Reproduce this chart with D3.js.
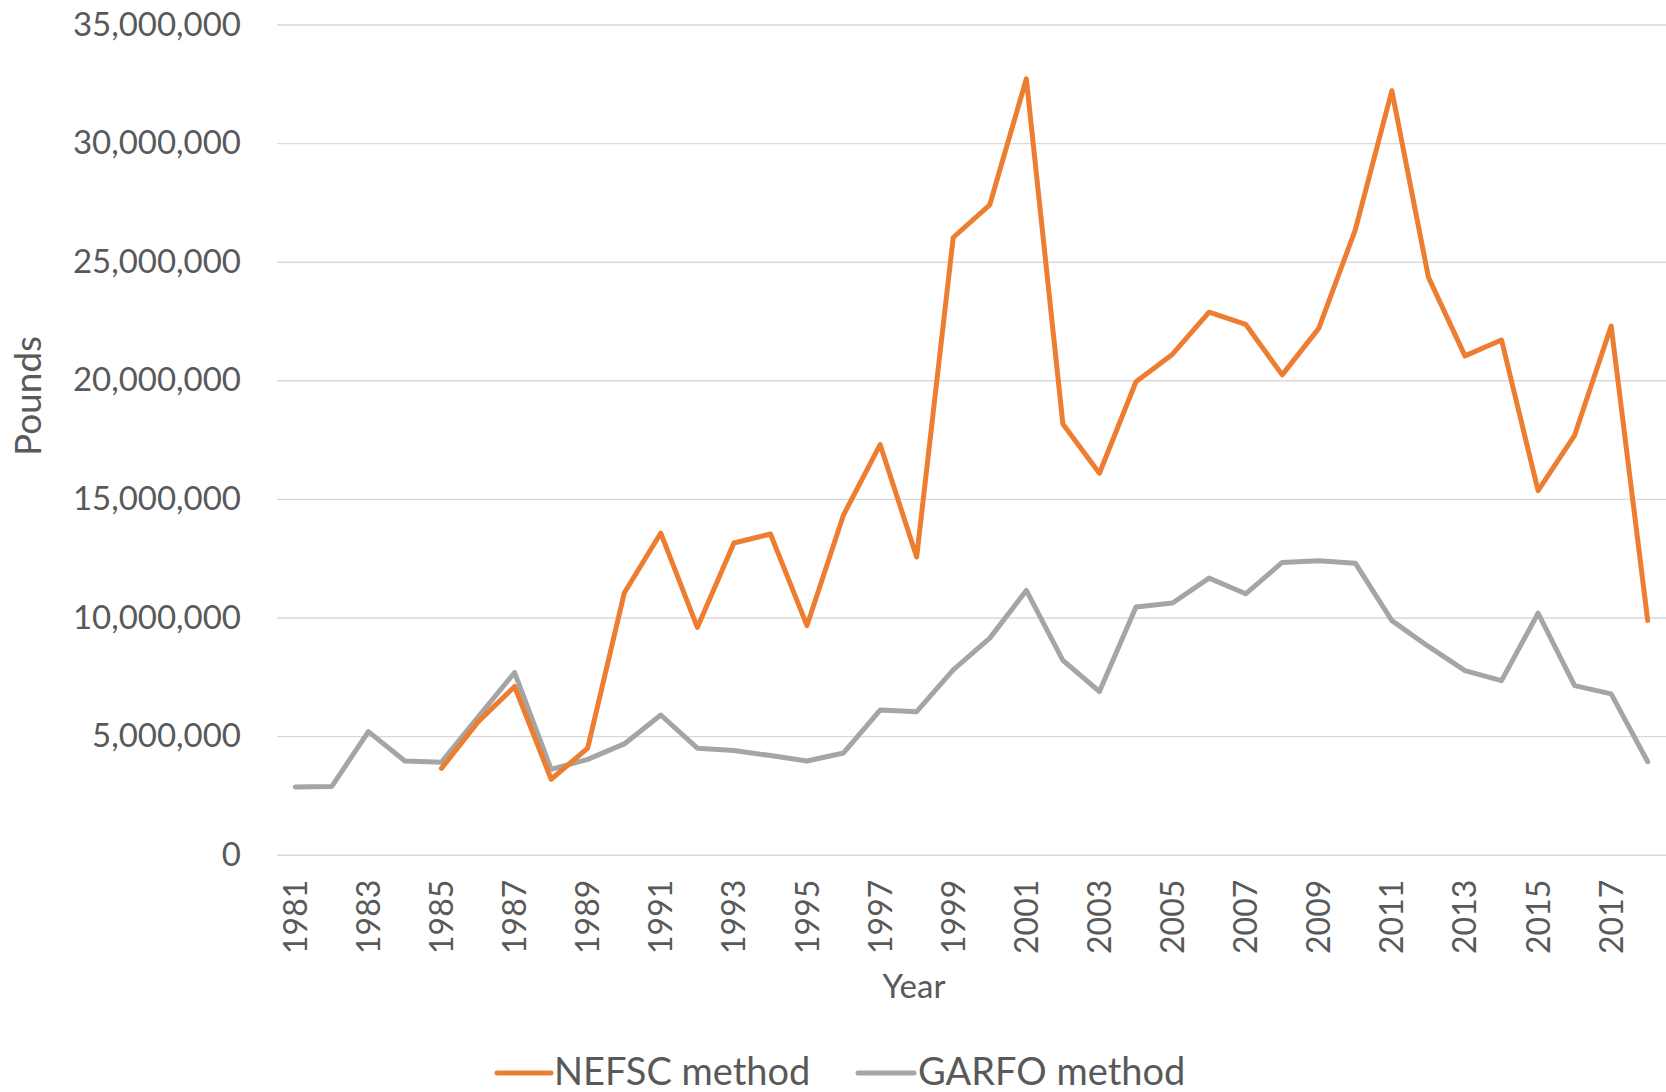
<!DOCTYPE html>
<html>
<head>
<meta charset="utf-8">
<script src="https://cdn.jsdelivr.net/npm/d3@7"></script>
<style>
  html, body { margin: 0; padding: 0; background: #ffffff; }
  svg { display: block; }
  text { font-family: Lato, "Open Sans", sans-serif; fill: #595959; }
</style>
</head>
<body>
<svg id="chart" width="1666" height="1092"></svg>
<script>
// ---- data ----
const years = d3.range(1981, 2019);
const nefsc = [null, null, null, null, 3640000, 5600000, 7090000, 3180000, 4490000, 11030000,
  13560000, 9580000, 13140000, 13520000, 9660000, 14330000, 17290000, 12550000, 26020000, 27400000,
  32710000, 18160000, 16080000, 19940000, 21100000, 22870000, 22360000, 20230000, 22190000, 26340000,
  32210000, 24350000, 21030000, 21700000, 15350000, 17680000, 22290000, 9870000];
const garfo = [2855000, 2880000, 5190000, 3950000, 3900000, 5800000, 7680000, 3600000, 4020000, 4670000,
  5890000, 4490000, 4390000, 4180000, 3950000, 4290000, 6100000, 6030000, 7790000, 9130000,
  11140000, 8190000, 6880000, 10440000, 10610000, 11660000, 11000000, 12320000, 12390000, 12290000,
  9870000, 8780000, 7760000, 7340000, 10180000, 7130000, 6780000, 3920000];
const yTicks = [0, 5000000, 10000000, 15000000, 20000000, 25000000, 30000000, 35000000];
const xTickYears = d3.range(1981, 2018, 2);
const seriesNames = ["NEFSC method", "GARFO method"];
const seriesColors = ["#ED7D31", "#A5A5A5"];

// ---- layout ----
const plot = { left: 277, right: 1666, top: 24.5, bottom: 854.7 };
const svg = d3.select("#chart");

const x = d3.scaleBand().domain(years).range([plot.left, plot.right]);
const xc = yr => x(yr) + x.bandwidth() / 2;
const y = d3.scaleLinear().domain([0, 35000000]).range([plot.bottom, plot.top]);

// y axis with gridlines
const yAxis = svg.append("g")
  .attr("transform", `translate(${plot.left},0)`)
  .call(d3.axisLeft(y).tickValues(yTicks).tickFormat(d3.format(","))
    .tickSizeInner(-(plot.right - plot.left)).tickSizeOuter(0).tickPadding(36));
yAxis.select(".domain").remove();
yAxis.selectAll("line").attr("stroke", "#D9D9D9").attr("stroke-width", 1.4);
yAxis.selectAll("text").style("font-size", "33px").attr("fill", "#595959")
  .style("font-family", "Lato, sans-serif");

// x axis
const xAxis = svg.append("g")
  .attr("transform", `translate(0,${plot.bottom})`)
  .call(d3.axisBottom(x).tickValues(xTickYears).tickSize(0));
xAxis.select(".domain").remove();
xAxis.selectAll("text")
  .attr("transform", "rotate(-90)")
  .attr("x", -25).attr("y", 0).attr("dy", "0.36em")
  .style("text-anchor", "end")
  .style("font-size", "32px").attr("fill", "#595959")
  .style("font-family", "Lato, sans-serif");

// axis titles
svg.append("text").attr("x", 914).attr("y", 998)
  .attr("text-anchor", "middle").style("font-size", "33px").text("Year");
svg.append("text").attr("transform", "translate(41,396) rotate(-90)")
  .attr("text-anchor", "middle").style("font-size", "37px").text("Pounds");

// lines
const line = d3.line()
  .defined(d => d.v !== null)
  .x(d => xc(d.year))
  .y(d => y(d.v));
[garfo, nefsc].forEach((vals, i) => {
  const idx = i === 0 ? 1 : 0;
  svg.append("path")
    .datum(years.map((yr, k) => ({ year: yr, v: vals[k] })))
    .attr("fill", "none")
    .attr("stroke", seriesColors[idx])
    .attr("stroke-width", 5)
    .attr("stroke-linejoin", "round")
    .attr("stroke-linecap", "round")
    .attr("d", line);
});

// legend
const legendItems = [
  { name: seriesNames[0], color: seriesColors[0], x0: 497, x1: 551, tx: 554 },
  { name: seriesNames[1], color: seriesColors[1], x0: 858, x1: 914, tx: 918 }
];
const lg = svg.append("g");
legendItems.forEach(it => {
  lg.append("line").attr("x1", it.x0).attr("x2", it.x1).attr("y1", 1073).attr("y2", 1073)
    .attr("stroke", it.color).attr("stroke-width", 5).attr("stroke-linecap", "round");
  lg.append("text").attr("x", it.tx).attr("y", 1085).style("font-size", "38px").text(it.name);
});
</script>
</body>
</html>
